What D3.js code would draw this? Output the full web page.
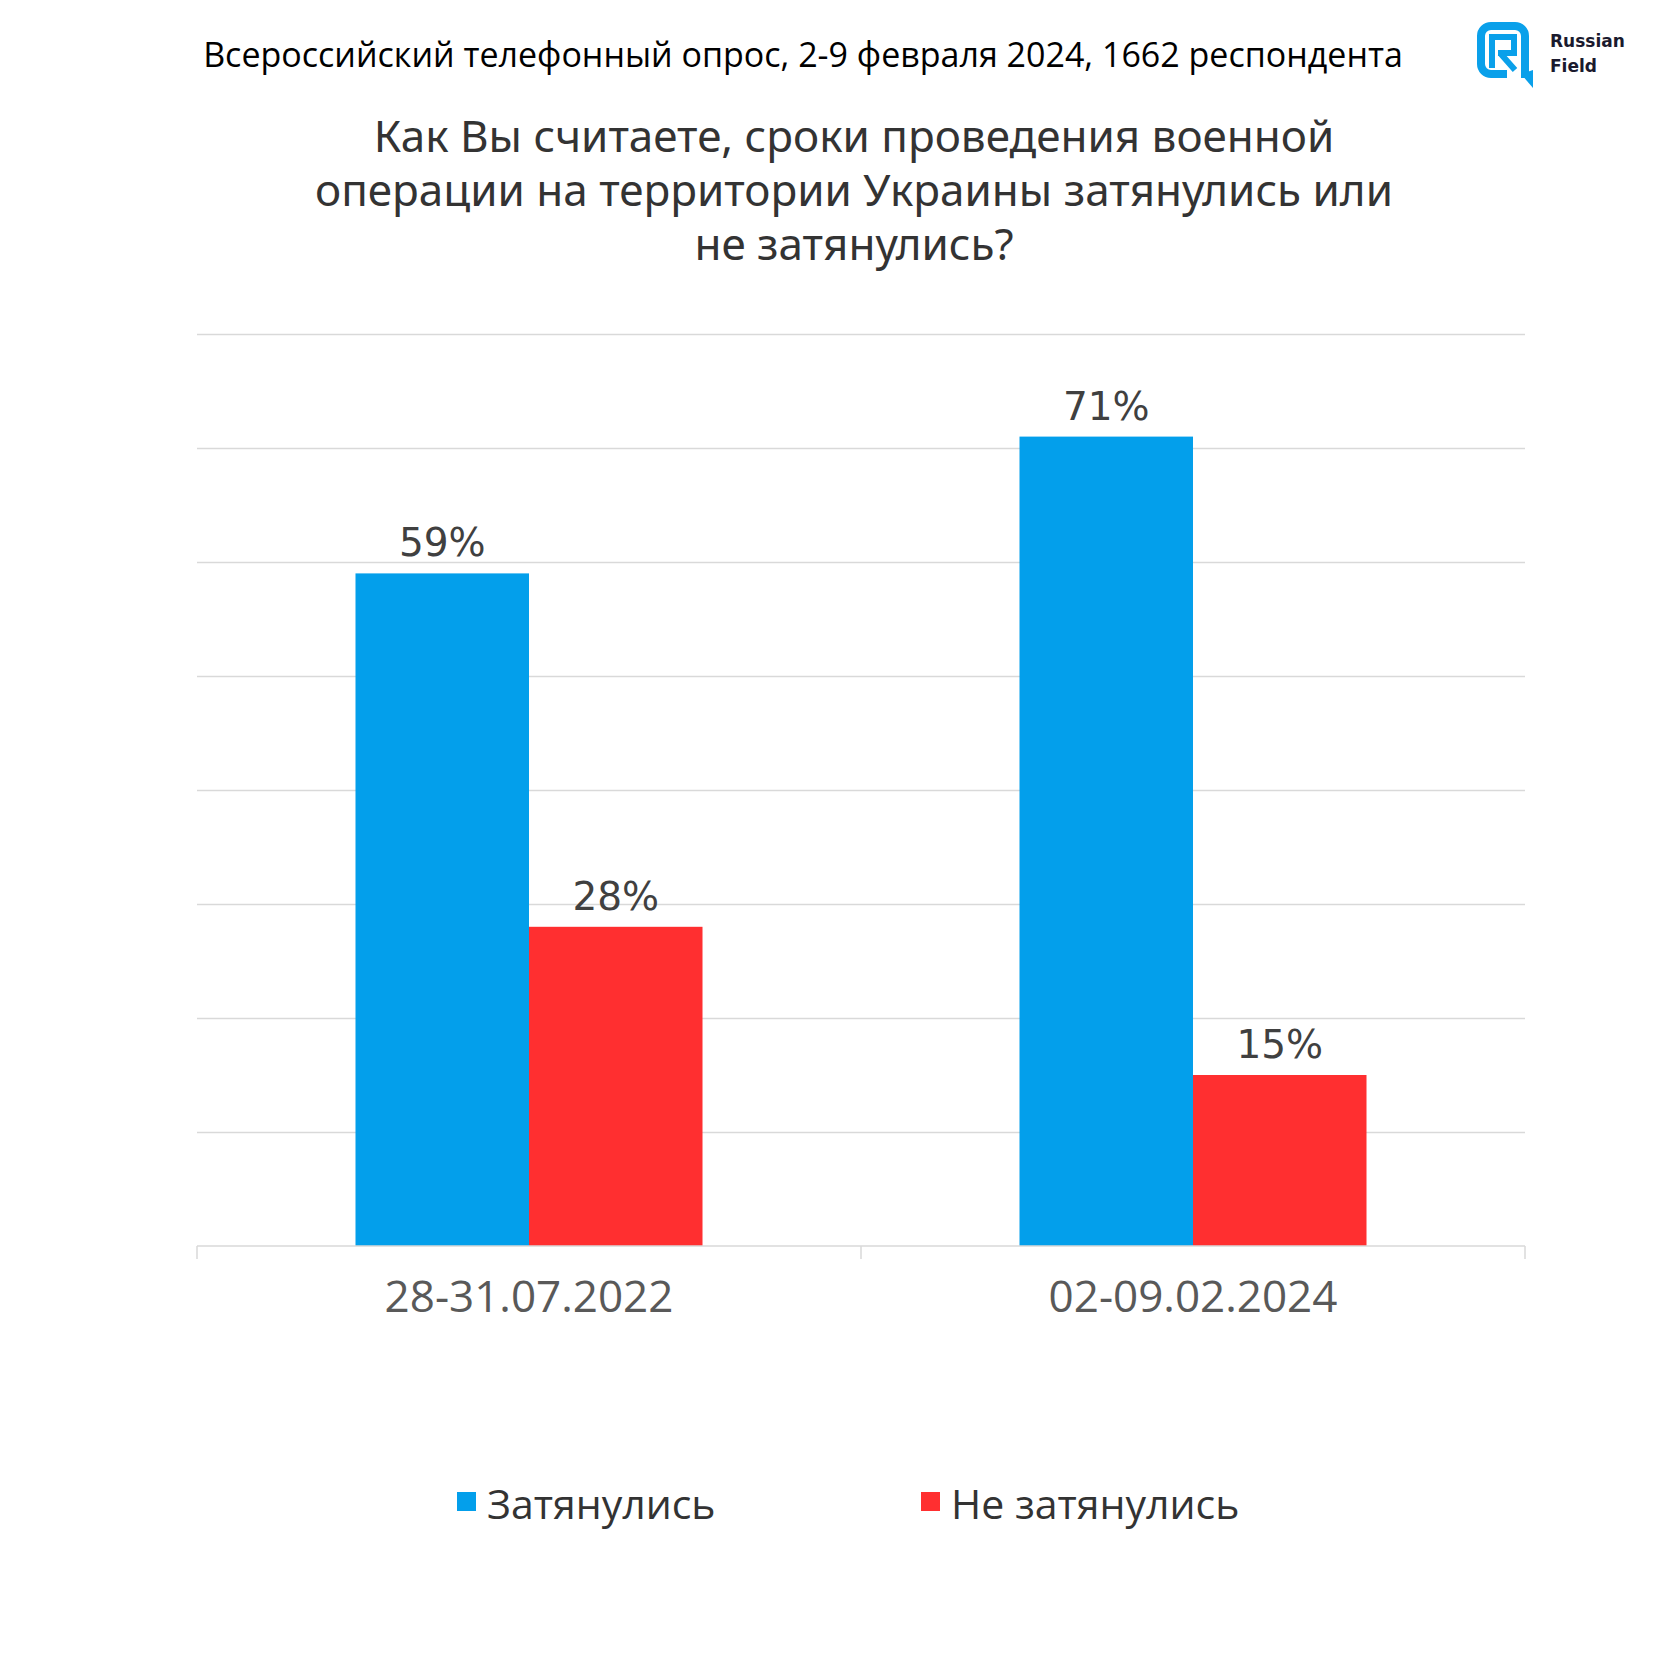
<!DOCTYPE html>
<html><head><meta charset="utf-8">
<script src="https://cdn.jsdelivr.net/npm/d3@7"></script>
<style>html,body{margin:0;padding:0;background:#fff;}svg{display:block;}</style>
</head><body>
<svg id="c" width="1680" height="1680"></svg>
<script>
const categories = ["28-31.07.2022", "02-09.02.2024"];
const seriesNames = ["Затянулись", "Не затянулись"];
const seriesZat = [59, 71];
const seriesNeZat = [28, 15];
const gridTicks = [0, 10, 20, 30, 40, 50, 60, 70, 80];
const headerText = "Всероссийский телефонный опрос, 2-9 февраля 2024, 1662 респондента";
const titleLines = ["Как Вы считаете, сроки проведения военной", "операции на территории Украины затянулись или", "не затянулись?"];

const colors = ["#039FEB", "#FF2F30"];
const svg = d3.select("#c");
const L = 197, R = 1525, T = 334, B = 1246;

const y = d3.scaleLinear().domain([0, 80]).range([B, T]);
const x0 = d3.scaleBand().domain(categories).range([L, R]).padding(0);
const bw = x0.bandwidth();
const x1 = d3.scaleBand().domain(seriesNames).range([bw * 0.2387, bw * 0.7613]).padding(0);

// gridlines
const gridAxis = d3.axisLeft(y).tickValues(gridTicks.slice(1)).tickSize(-(R - L)).tickFormat("");
const gg = svg.append("g").attr("transform", `translate(${L},0)`).call(gridAxis);
gg.select(".domain").remove();
gg.selectAll(".tick line").attr("stroke", "#D9D9D9").attr("stroke-width", 1.5);

// bars
const data = categories.map((c, i) => ({cat: c, vals: [seriesZat[i], seriesNeZat[i]]}));
const groups = svg.append("g").selectAll("g").data(data).join("g")
  .attr("transform", d => `translate(${x0(d.cat)},0)`);
groups.selectAll("rect").data(d => d.vals.map((v, j) => ({v, s: seriesNames[j], j})))
  .join("rect")
  .attr("x", d => x1(d.s)).attr("width", x1.bandwidth())
  .attr("y", d => y(d.v)).attr("height", d => y(0) - y(d.v))
  .attr("fill", d => colors[d.j]);
groups.selectAll("text").data(d => d.vals.map((v, j) => ({v, s: seriesNames[j], j})))
  .join("text")
  .attr("x", d => x1(d.s) + x1.bandwidth() / 2)
  .attr("y", d => y(d.v) - 17)
  .attr("text-anchor", "middle")
  .attr("font-family", "DejaVu Sans, Verdana, sans-serif")
  .attr("font-size", 39)
  .attr("fill", "#404040")
  .text(d => d.v + "%");

// x axis
const xAxis = d3.axisBottom(x0).tickSize(0).tickPadding(0);
const xg = svg.append("g").attr("transform", `translate(0,${B})`).call(xAxis);
xg.select(".domain").attr("stroke", "#D9D9D9").attr("stroke-width", 1.5).attr("d", `M${L},0H${R}`);
xg.selectAll(".tick text").attr("font-family", "Open Sans, Noto Sans, sans-serif")
  .attr("font-size", 44).attr("fill", "#595959").attr("dy", 0).attr("y", 66);
// category boundary ticks
const bounds = [L].concat(categories.map(c => x0(c) + bw));
xg.selectAll("line.b").data(bounds).join("line").attr("class", "b")
  .attr("x1", d => d).attr("x2", d => d).attr("y1", 0).attr("y2", 13)
  .attr("stroke", "#D9D9D9").attr("stroke-width", 1.5);

// header
svg.append("text").attr("x", 803).attr("y", 67).attr("text-anchor", "middle")
  .attr("font-family", "Open Sans, Noto Sans, sans-serif").attr("font-size", 34)
  .attr("fill", "#000").text(headerText);

// title (one text element, three lines)
const title = svg.append("text").attr("text-anchor", "middle")
  .attr("font-family", "Noto Sans, Open Sans, sans-serif").attr("font-size", 44)
  .attr("fill", "#333");
title.selectAll("tspan").data(titleLines).join("tspan")
  .attr("x", 854).attr("y", (d, i) => 152 + i * 54).text(d => d);

// legend
const legX = [457, 921];
const lg = svg.append("g").selectAll("g").data(seriesNames).join("g")
  .attr("transform", (d, i) => `translate(${legX[i]},1492)`);
lg.append("rect").attr("width", 19).attr("height", 19).attr("fill", (d, i) => colors[i]);
lg.append("text").attr("x", 30).attr("y", 27)
  .attr("font-family", "Open Sans, Noto Sans, sans-serif").attr("font-size", 41)
  .attr("fill", "#333").text(d => d);

// logo
const logo = svg.append("g").attr("transform", "translate(1477,22)");
logo.append("path")
  .attr("d", "M48,56 V14 A10,10 0 0 0 38,4 H14 A10,10 0 0 0 4,14 V42 A10,10 0 0 0 14,52 H30")
  .attr("fill", "none").attr("stroke", "#0AA0EA").attr("stroke-width", 8).attr("stroke-linejoin", "round");
logo.append("path").attr("d", "M44,52 L56,66 L56,48 Z").attr("fill", "#0AA0EA");
logo.append("path")
  .attr("d", "M15,46 V15 H37 V31 H21 M23,31 L38,48")
  .attr("fill", "none").attr("stroke", "#0AA0EA").attr("stroke-width", 6);
logo.append("text").attr("x", 73).attr("y", 25).attr("font-family", "DejaVu Sans, sans-serif")
  .attr("font-weight", "bold").attr("font-size", 17).attr("fill", "#1a1a2e").text("Russian");
logo.append("text").attr("x", 73).attr("y", 50).attr("font-family", "DejaVu Sans, sans-serif")
  .attr("font-weight", "bold").attr("font-size", 17).attr("fill", "#1a1a2e").text("Field");
</script>
</body></html>
